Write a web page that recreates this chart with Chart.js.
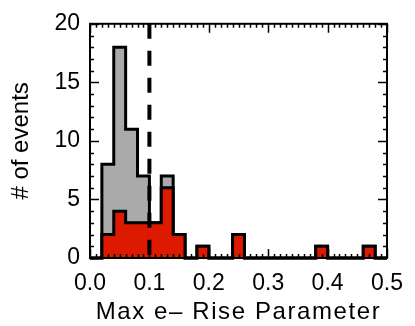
<!DOCTYPE html>
<html>
<head>
<meta charset="utf-8">
<script src="https://cdn.jsdelivr.net/npm/chart.js@4"></script>
<style>
  html, body { margin: 0; padding: 0; background: #fff; }
  #wrap { width: 415px; height: 326px; }
</style>
</head>
<body>
<div id="wrap"><canvas id="histChart"></canvas></div>
<script>
// bin edges (width 0.02) and counts per bin
const binEdges = [0.00, 0.02, 0.04, 0.06, 0.08, 0.10, 0.12, 0.14, 0.16, 0.18, 0.20, 0.22, 0.24,
                  0.26, 0.28, 0.30, 0.32, 0.34, 0.36, 0.38, 0.40, 0.42, 0.44, 0.46, 0.48, 0.50];
const allEvents = [0, 8, 18, 11, 7, 3, 7, 2, 0, 1, 0, 0, 2, 0, 0, 0, 0, 0, 0, 1, 0, 0, 0, 1, 0];
const redEvents = [0, 2, 4, 3, 3, 3, 6, 2, 0, 1, 0, 0, 2, 0, 0, 0, 0, 0, 0, 1, 0, 0, 0, 1, 0];
const xTicks = [0.0, 0.1, 0.2, 0.3, 0.4, 0.5];
const yTicks = [0, 5, 10, 15, 20];
const cutValue = 0.1;
const xTitle = 'Max e\u2013 Rise Parameter';
const yTitle = '# of events';

const FONT = 'Liberation Sans, Arial, Helvetica, sans-serif';

// step points: each edge holds the count of the bin that starts there
function stepPoints(counts) {
    const pts = counts.map((c, i) => ({ x: binEdges[i], y: c }));
    pts.push({ x: binEdges[binEdges.length - 1], y: counts[counts.length - 1] });
    return pts;
}

// frame with inward ticks on all four sides, plus the x title (wider spacing like the original)
const frameTicks = {
    id: 'frameTicks',
    afterDraw(chart) {
        const ctx = chart.ctx;
        const xs = chart.scales.x, ys = chart.scales.y;
        const a = chart.chartArea;
        ctx.save();
        ctx.strokeStyle = '#000';
        ctx.lineWidth = 2;
        ctx.strokeRect(a.left, a.top, a.right - a.left, a.bottom - a.top);
        ctx.lineWidth = 1.5;
        ctx.beginPath();
        for (let i = 0; i <= 50; i++) {
            const px = Math.round(xs.getPixelForValue(i / 100)) + 0.5;
            const len = i % 10 === 0 ? 9 : 4;
            ctx.moveTo(px, a.bottom); ctx.lineTo(px, a.bottom - len);
            ctx.moveTo(px, a.top); ctx.lineTo(px, a.top + len);
        }
        for (let j = 0; j <= 20; j++) {
            const py = Math.round(ys.getPixelForValue(j)) + 0.5;
            const len = j % 5 === 0 ? 9 : 4;
            ctx.moveTo(a.left, py); ctx.lineTo(a.left + len, py);
            ctx.moveTo(a.right, py); ctx.lineTo(a.right - len, py);
        }
        ctx.stroke();

        ctx.fillStyle = '#000';
        ctx.font = '24px ' + FONT;
        ctx.letterSpacing = '1.6px';
        ctx.textAlign = 'center';
        ctx.textBaseline = 'alphabetic';
        ctx.fillText(xTitle, (a.left + a.right) / 2, 319);
        ctx.restore();
    }
};

const ctx = document.getElementById('histChart').getContext('2d');
new Chart(ctx, {
    type: 'line',
    data: {
        datasets: [
            {
                label: 'cut',
                data: [{ x: cutValue, y: 20 }, { x: cutValue, y: -0.35 }],
                borderColor: '#000',
                borderWidth: 4,
                borderDash: [15, 12],
                borderCapStyle: 'butt',
                pointRadius: 0,
                fill: false,
                clip: false,
                order: 0
            },
            {
                label: 'red',
                data: stepPoints(redEvents),
                stepped: true,
                borderColor: '#000',
                borderWidth: 3,
                backgroundColor: 'rgb(221,26,0)',
                fill: 'origin',
                pointRadius: 0,
                clip: false,
                order: 1
            },
            {
                label: 'all',
                data: stepPoints(allEvents),
                stepped: true,
                borderColor: '#000',
                borderWidth: 3,
                backgroundColor: 'rgb(170,170,170)',
                fill: 'origin',
                pointRadius: 0,
                clip: false,
                order: 2
            }
        ]
    },
    options: {
        responsive: true,
        maintainAspectRatio: false,
        animation: false,
        layout: { padding: { top: 12, right: 23, left: 0, bottom: 0 } },
        plugins: { legend: { display: false }, tooltip: { enabled: false } },
        scales: {
            x: {
                type: 'linear',
                min: 0, max: 0.5,
                afterBuildTicks: s => { s.ticks = xTicks.map(v => ({ value: v })); },
                afterFit: s => { s.height = 68; },
                grid: { display: false, drawTicks: false },
                border: { display: false },
                ticks: {
                    padding: 12,
                    color: '#000',
                    font: { family: FONT, size: 23 },
                    maxRotation: 0,
                    callback: v => v.toFixed(1)
                },
                title: { display: false }
            },
            y: {
                min: 0, max: 20,
                afterBuildTicks: s => { s.ticks = yTicks.map(v => ({ value: v })); },
                afterFit: s => { s.width = 90; },
                grid: { display: false, drawTicks: false },
                border: { display: false },
                ticks: {
                    padding: 10,
                    color: '#000',
                    font: { family: FONT, size: 23 }
                },
                title: {
                    display: true,
                    text: yTitle,
                    color: '#000',
                    font: { family: FONT, size: 24 },
                    padding: { top: 7, bottom: 0 }
                }
            }
        }
    },
    plugins: [frameTicks]
});
</script>
</body>
</html>
